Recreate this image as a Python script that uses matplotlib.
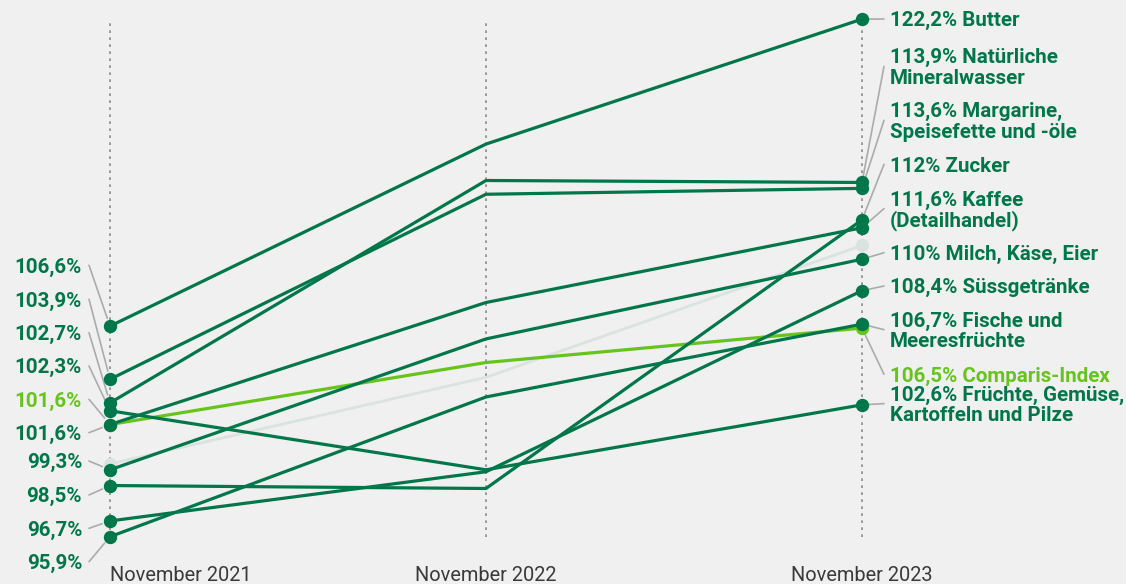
import numpy as np
import matplotlib.pyplot as plt
import matplotlib.transforms as mtransforms

W, H = 1126, 584

years = ["November 2021", "November 2022", "November 2023"]
categories = ["Butter", "Natürliche\nMineralwasser", "Margarine,\nSpeisefette und -öle",
              "Zucker", "Kaffee\n(Detailhandel)", "Milch, Käse, Eier", "Süssgetränke",
              "Fische und\nMeeresfrüchte", "Comparis-Index",
              "Früchte, Gemüse,\nKartoffeln und Pilze"]
v2021 = [106.6, 102.7, 103.9, 98.5, 101.6, 99.3, 96.7, 95.9, 101.6, 102.3]
v2022 = [115.85, 114.0, 113.3, 98.35, 107.8, 105.95, 99.2, 103.0, 104.75, 99.3]
v2023 = [122.2, 113.9, 113.6, 112.0, 111.6, 110.0, 108.4, 106.7, 106.5, 102.6]
ghost = [99.6, 104.0, 110.7]  # faded line behind the others

# label rows in pixels from the top (glyph centres)
left_label_y = [265.3, 332.7, 299.3, 495, 432.7, 461, 528.3, 561.7, 399.3, 366]
right_label_y = [19, 56, 110, 164.3, 198.3, 252.7, 286, 319.3, 374.3, 393.3]

dark = "#00774a"
light = "#66c41c"
ghost_col = "#dbe3e0"
leader = "#ababab"
bg = "#f0f0f0"

plt.rcParams['font.family'] = ['Roboto', 'DejaVu Sans']

fig = plt.figure(figsize=(W / 100, H / 100), dpi=100, facecolor=bg)
ax = fig.add_axes([0, 0, 1, 1])
ax.set_facecolor(bg)
ax.set_xlim(-110 / 376, (W - 110) / 376)
ax.set_ylim(95.9 - (H - 536.7) / 19.68, 95.9 + 536.7 / 19.68)
ax.axis('off')

# pixel coordinates measured from the top left corner
pix = mtransforms.Affine2D().scale(1 / W, -1 / H).translate(0, 1) + fig.transFigure
xpix = mtransforms.blended_transform_factory(ax.transData, pix)

x = np.arange(len(years))
vals = np.array([v2021, v2022, v2023]).T

ax.vlines(x, vals.min(), vals.max(), colors="#8a8a8a", linestyles=(0, (1.6, 2.6)),
          lw=1.2, zorder=1)

ax.plot(x, ghost, color=ghost_col, lw=2.0, zorder=1.5)
ax.plot(x[[0, 2]], [ghost[0], ghost[2]], 'o', color=ghost_col, ms=8.6, zorder=1.5)


def fmt(v):
    s = f"{v:.1f}".replace(".", ",")
    if s.endswith(",0"):
        s = s[:-2]
    return s + "%"


lbl = dict(fontsize=14.8, fontweight='bold', va='baseline')
for i, name in enumerate(categories):
    col = light if name == "Comparis-Index" else dark
    z = 2 if col == light else 3
    ax.plot(x, vals[i], color=col, lw=2.3, zorder=z, solid_capstyle='round')
    ax.plot(x[[0, 2]], vals[i, [0, 2]], 'o', color=col, ms=8.6, zorder=z + 2)

    # left labels
    yl = left_label_y[i]
    ax.text(82, yl + 7.3, fmt(v2021[i]), transform=pix, ha='right', color=col, **lbl)
    ax.annotate("", xy=(0, v2021[i]), xycoords='data', xytext=(89, yl), textcoords=pix,
                arrowprops=dict(arrowstyle='-', color=leader, lw=1.2, shrinkA=0, shrinkB=6),
                zorder=1)

    # right labels
    lines = (fmt(v2023[i]) + " " + name).split("\n")
    yr = right_label_y[i]
    for j, line in enumerate(lines):
        ax.text(890, yr + j * 20.7 + 7.3, line, transform=pix, ha='left', color=col, **lbl)
    yc = yr + (len(lines) - 1) * 20.7 / 2
    ax.annotate("", xy=(2, v2023[i]), xycoords='data', xytext=(884, yc), textcoords=pix,
                arrowprops=dict(arrowstyle='-', color=leader, lw=1.2, shrinkA=0, shrinkB=5),
                zorder=1)

for k, yr_name in enumerate(years):
    ax.text(x[k], 581, yr_name, transform=xpix, ha='left' if k == 0 else 'center',
            va='baseline', fontsize=14.4, color="#3a3a3a")

fig.savefig("out.png", dpi=100, facecolor=bg)
